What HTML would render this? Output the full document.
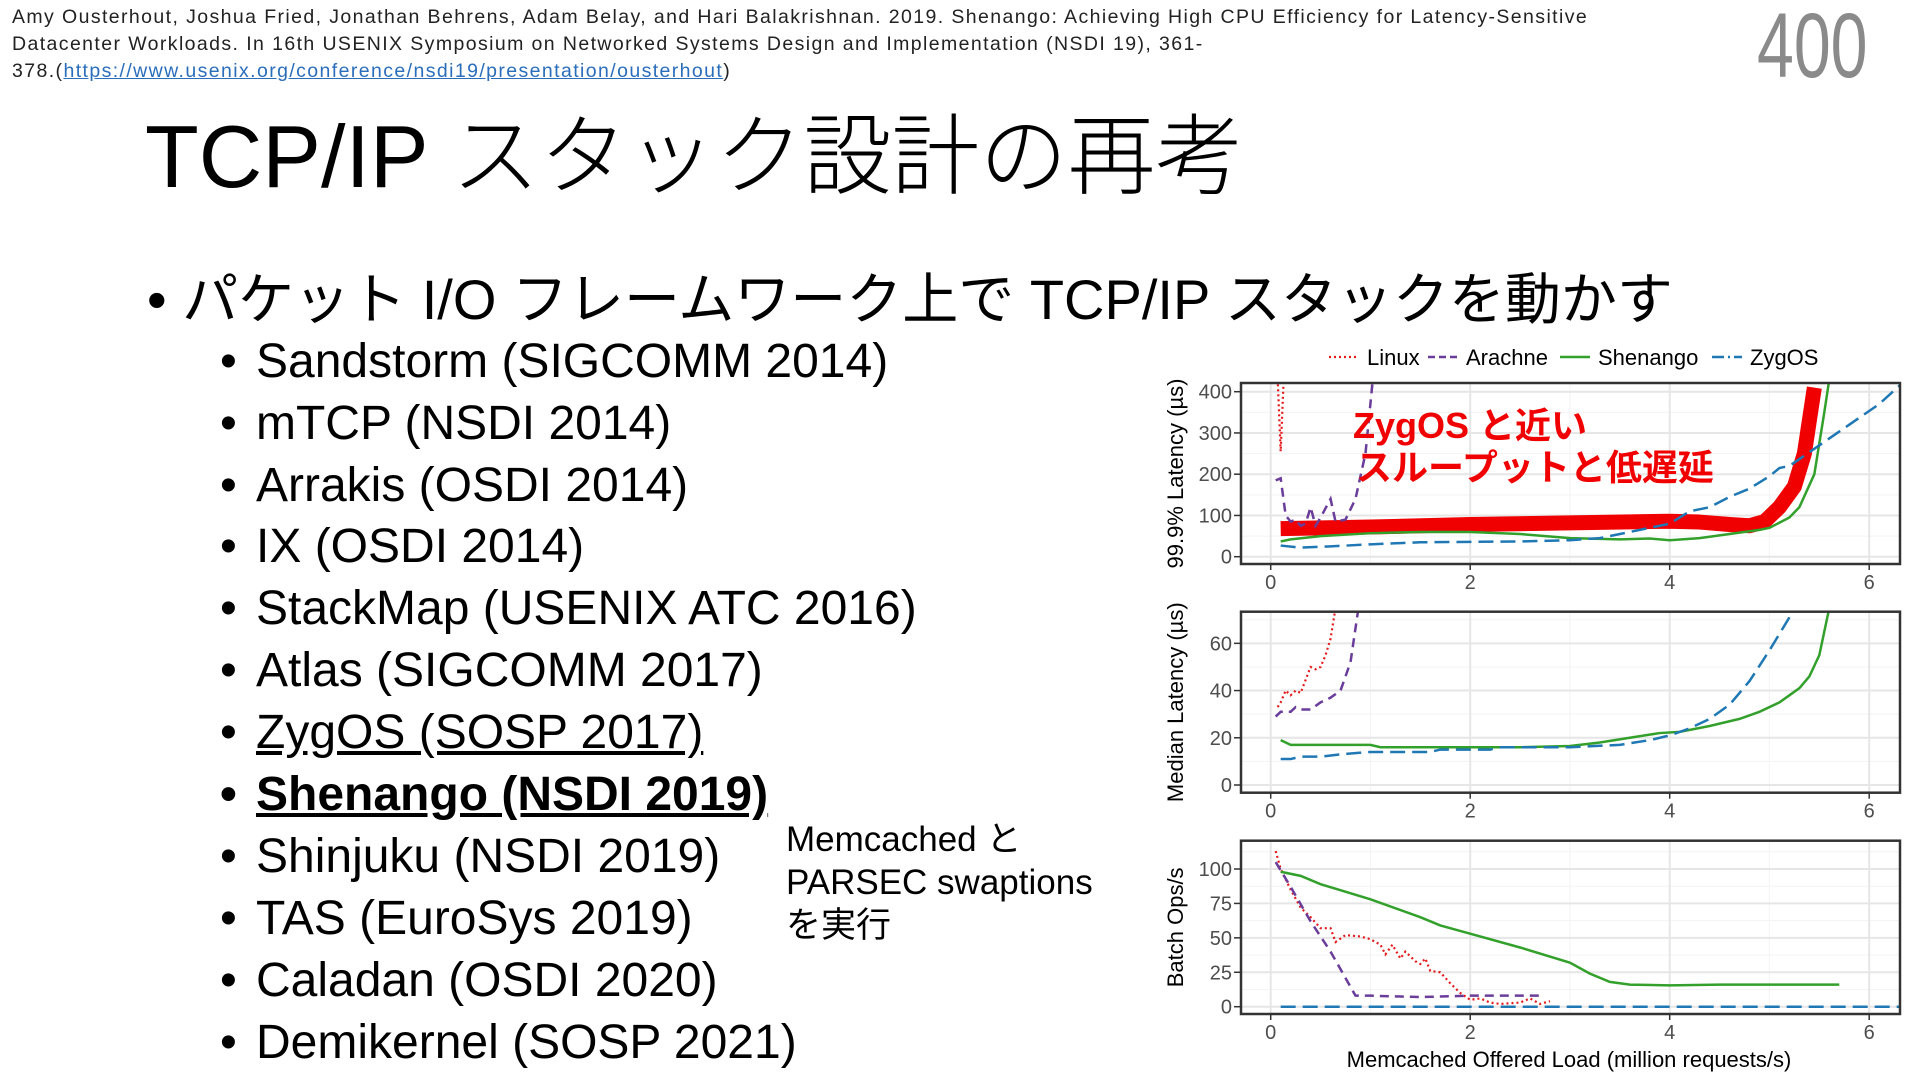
<!DOCTYPE html>
<html><head><meta charset="utf-8">
<style>
html,body{margin:0;padding:0;background:#fff;}
body{width:1920px;height:1080px;position:relative;overflow:hidden;font-family:"Liberation Sans","Noto Sans CJK JP",sans-serif;color:#000;}
.abs{position:absolute;white-space:nowrap;}
.cite{left:12px;font-size:19.5px;line-height:27px;color:#222;top:4px;letter-spacing:1.4px;}
.cite a{color:#2a6ebb;text-decoration:underline;}
.pg{right:53px;top:-6px;font-size:92px;color:#8a8a8a;font-weight:300;transform:scaleX(0.72);transform-origin:right top;}
.title{left:145px;top:86px;font-size:88px;font-weight:300;}
.main{left:147px;top:255px;font-size:56px;}
.sub{left:220px;font-size:48px;}
.sub .d{display:inline-block;width:36px;}
.note{left:786px;top:818px;font-size:35px;line-height:43px;white-space:normal;width:360px;}
</style></head>
<body>
<div class="abs cite">Amy Ousterhout, Joshua Fried, Jonathan Behrens, Adam Belay, and Hari Balakrishnan. 2019. Shenango: Achieving High CPU Efficiency for Latency-Sensitive<br>Datacenter Workloads. In 16th USENIX Symposium on Networked Systems Design and Implementation (NSDI 19), 361-<br>378.(<a>https://www.usenix.org/conference/nsdi19/presentation/ousterhout</a>)</div>
<div class="abs pg">400</div>
<div class="abs title">TCP/IP スタック設計の再考</div>
<div class="abs main">• パケット I/O フレームワーク上で TCP/IP スタックを動かす</div>
<div class="abs sub" style="top:334px"><span class="d">•</span>Sandstorm (SIGCOMM 2014)</div>
<div class="abs sub" style="top:396px"><span class="d">•</span>mTCP (NSDI 2014)</div>
<div class="abs sub" style="top:458px"><span class="d">•</span>Arrakis (OSDI 2014)</div>
<div class="abs sub" style="top:519px"><span class="d">•</span>IX (OSDI 2014)</div>
<div class="abs sub" style="top:581px"><span class="d">•</span>StackMap (USENIX ATC 2016)</div>
<div class="abs sub" style="top:643px"><span class="d">•</span>Atlas (SIGCOMM 2017)</div>
<div class="abs sub" style="top:705px"><span class="d">•</span><u>ZygOS (SOSP 2017)</u></div>
<div class="abs sub" style="top:767px;font-weight:bold"><span class="d">•</span><u>Shenango (NSDI 2019)</u></div>
<div class="abs sub" style="top:829px"><span class="d">•</span>Shinjuku (NSDI 2019)</div>
<div class="abs sub" style="top:891px"><span class="d">•</span>TAS (EuroSys 2019)</div>
<div class="abs sub" style="top:953px"><span class="d">•</span>Caladan (OSDI 2020)</div>
<div class="abs sub" style="top:1015px"><span class="d">•</span>Demikernel (SOSP 2021)</div>
<div class="abs note">Memcached と<br>PARSEC swaptions<br>を実行</div>

<svg id="chart" width="1920" height="1080" style="position:absolute;left:0;top:0" xmlns="http://www.w3.org/2000/svg"></svg>

<script>
const xTicks = [0, 2, 4, 6];
const p1Ticks = [0, 100, 200, 300, 400];
const p2Ticks = [0, 20, 40, 60];
const p3Ticks = [0, 25, 50, 75, 100];
const seriesNames = ["Linux", "Arachne", "Shenango", "ZygOS"];

const p1Linux = [[0.07,430],[0.1,255],[0.13,430]];
const p1Arachne = [[0.05,185],[0.1,190],[0.15,100],[0.2,85],[0.25,90],[0.3,75],[0.35,80],[0.4,120],[0.45,75],[0.5,95],[0.6,140],[0.65,85],[0.75,90],[0.85,140],[0.95,250],[1.02,420]];
const p1Shenango = [[0.1,37],[0.2,42],[0.5,50],[1,57],[1.5,60],[2,60],[2.5,55],[3,45],[3.5,42],[3.8,44],[4,40],[4.3,45],[4.6,55],[4.9,65],[5,70],[5.2,95],[5.3,120],[5.45,200],[5.55,350],[5.6,430]];
const p1ZygOS = [[0.1,27],[0.3,22],[0.6,25],[1,30],[1.5,35],[2,36],[2.5,37],[3,40],[3.3,45],[3.6,60],[3.8,70],[4,80],[4.2,110],[4.4,120],[4.6,145],[4.8,165],[5,195],[5.1,215],[5.2,220],[5.5,270],[5.8,320],[6.1,370],[6.35,425]];
const p1Highlight = [[0.1,68],[1,72],[2,78],[3,82],[4,86],[4.3,84],[4.6,78],[4.8,75],[4.95,85],[5.1,120],[5.25,170],[5.35,250],[5.45,410]];

const p2Linux = [[0.07,33],[0.1,35],[0.15,40],[0.2,38],[0.25,40],[0.3,39],[0.4,50],[0.45,49],[0.5,50],[0.55,55],[0.6,62],[0.65,75]];
const p2Arachne = [[0.05,29],[0.1,31],[0.2,31],[0.25,33],[0.3,32],[0.4,32],[0.5,35],[0.6,37],[0.7,40],[0.8,52],[0.88,75]];
const p2Shenango = [[0.1,19],[0.2,17],[0.5,17],[1,17],[1.1,16],[2,16],[2.5,16],[3,16.5],[3.3,18],[3.6,20],[3.9,22],[4.1,22.5],[4.4,25],[4.7,28],[4.9,31],[5.1,35],[5.3,41],[5.4,46],[5.5,55],[5.55,65],[5.6,75]];
const p2ZygOS = [[0.1,11],[0.2,11],[0.3,12],[0.5,12],[0.7,13],[1,14],[1.6,14],[1.7,15],[2.2,15],[2.3,16],[3,16],[3.5,17],[3.8,19],[4,21],[4.2,24],[4.4,28],[4.6,34],[4.8,44],[5,57],[5.2,71],[5.25,75]];

const p3Linux = [[0.05,113],[0.1,100],[0.2,85],[0.3,72],[0.4,65],[0.5,57],[0.6,57],[0.65,47],[0.75,52],[0.9,51],[1.0,49],[1.05,47],[1.1,45],[1.15,38],[1.22,45],[1.3,35],[1.35,40],[1.45,33],[1.5,31],[1.55,35],[1.6,26],[1.7,25],[1.8,17],[1.9,10],[2,5],[2.1,6],[2.2,3],[2.3,2],[2.5,3],[2.6,6],[2.7,2],[2.8,4]];
const p3Arachne = [[0.05,105],[0.2,87],[0.4,62],[0.6,40],[0.85,8],[1,8],[1.5,7],[2,8],[2.7,8]];
const p3Shenango = [[0.1,98],[0.3,95],[0.5,89],[1,78],[1.5,65],[1.7,59],[2,53],[2.5,43],[3,32],[3.2,24],[3.4,18],[3.6,16],[4,15.5],[4.5,16],[5,16],[5.7,16]];
const p3ZygOS = [[0.1,0],[6.3,0]];

const NS = "http://www.w3.org/2000/svg";
const svg = document.getElementById("chart");
const X0 = 1270.7, XK = 99.75, LEFT = 1241, RIGHT = 1900;
const xs = v => X0 + v * XK;
const styles = {
  Linux: {stroke:"#e41a1c", dash:"2 3", w:2.2},
  Arachne: {stroke:"#6a3d9a", dash:"9 6", w:2.5},
  Shenango: {stroke:"#33a02c", dash:"", w:2.5},
  ZygOS: {stroke:"#1f78b4", dash:"15 7", w:2.5}
};
function el(tag, attrs, parent){ const e=document.createElementNS(NS,tag); for(const k in attrs) e.setAttribute(k,attrs[k]); (parent||svg).appendChild(e); return e; }

const panels = [
  {top:383, bottom:564, y0:556.7, k:0.4125, ticks:p1Ticks, title:"99.9% Latency (µs)", data:[p1Linux,p1Arachne,p1Shenango,p1ZygOS], name:"p999-latency-panel"},
  {top:611.7, bottom:792.7, y0:785, k:2.361, ticks:p2Ticks, title:"Median Latency (µs)", data:[p2Linux,p2Arachne,p2Shenango,p2ZygOS], name:"median-latency-panel"},
  {top:840.7, bottom:1014, y0:1006.7, k:1.377, ticks:p3Ticks, title:"Batch Ops/s", data:[p3Linux,p3Arachne,p3Shenango,p3ZygOS], name:"batch-ops-panel"}
];

panels.forEach((p, pi) => {
  const ys = v => p.y0 - v * p.k;
  const g = el("g", {});
  
  
  const cid = "clip" + pi;
  const cp = el("clipPath", {id:cid}, g);
  el("rect", {x:LEFT, y:p.top, width:RIGHT-LEFT, height:p.bottom-p.top}, cp);
  const step = p.ticks[1]-p.ticks[0];
  for (let i=0;i<p.ticks.length;i++){
    const mv = p.ticks[i] + step/2;
    const yy = ys(mv);
    if (yy > p.top && yy < p.bottom) el("line",{x1:LEFT,x2:RIGHT,y1:yy,y2:yy,stroke:"#f3f3f3","stroke-width":1},g);
  }
  for (let i=0;i<xTicks.length;i++){
    const xx = xs(xTicks[i]+1);
    if (xx < RIGHT) el("line",{x1:xx,x2:xx,y1:p.top,y2:p.bottom,stroke:"#f3f3f3","stroke-width":1},g);
  }
  p.ticks.forEach(t => {
    const yy = ys(t);
    el("line",{x1:LEFT,x2:RIGHT,y1:yy,y2:yy,stroke:"#e6e6e6","stroke-width":2},g);
    el("line",{x1:LEFT-7,x2:LEFT,y1:yy,y2:yy,stroke:"#333","stroke-width":1.5},g);
    const tl = el("text",{x:LEFT-9,y:yy+7,"text-anchor":"end","font-size":"20","fill":"#4d4d4d","font-family":"'Liberation Sans Narrow','Liberation Sans',sans-serif"},g);
    tl.textContent = t;
    
    
  });
  xTicks.forEach(t => {
    const xx = xs(t);
    el("line",{x1:xx,x2:xx,y1:p.top,y2:p.bottom,stroke:"#e6e6e6","stroke-width":2},g);
    el("line",{x1:xx,x2:xx,y1:p.bottom,y2:p.bottom+6,stroke:"#333","stroke-width":1.5},g);
    const tl = el("text",{x:xx,y:p.bottom+25,"text-anchor":"middle","font-size":"20","fill":"#4d4d4d","font-family":"'Liberation Sans Narrow','Liberation Sans',sans-serif"},g);
    tl.textContent = t;
    
    
  });
  const sg = el("g",{"clip-path":"url(#"+cid+")"},g);
  if (pi === 0) {
    const hl = el("polyline",{points:p1Highlight.map(d=>xs(d[0])+","+ys(d[1])).join(" "),fill:"none",stroke:"#f00000","stroke-width":15,"stroke-linejoin":"round"},sg);
    
    
  }
  p.data.forEach((arr, si) => {
    const s = styles[seriesNames[si]];
    const pl = el("polyline",{points:arr.map(d=>xs(d[0])+","+ys(d[1])).join(" "),fill:"none",stroke:s.stroke,"stroke-width":s.w,"stroke-dasharray":s.dash},sg);
    
    
  });
  el("rect",{x:LEFT,y:p.top,width:RIGHT-LEFT,height:p.bottom-p.top,fill:"none",stroke:"#333","stroke-width":2.5},g);
  const cy = (p.top+p.bottom)/2;
  const yt = el("text",{x:1183,y:cy,"text-anchor":"middle","font-size":"22",transform:"rotate(-90 1183 "+cy+")","font-family":"'Liberation Sans',sans-serif"},g);
  yt.textContent = p.title;
  
  
});

const xt = el("text",{x:1569,y:1067,"text-anchor":"middle","font-size":"22","font-family":"'Liberation Sans',sans-serif"});
xt.textContent = "Memcached Offered Load (million requests/s)";



const legX = [1329, 1428, 1560, 1712];
const lg = el("g",{});


seriesNames.forEach((n, i) => {
  const s = styles[n];
  const item = el("g",{},lg);
  
  
  el("line",{x1:legX[i],x2:legX[i]+30,y1:357,y2:357,stroke:s.stroke,"stroke-width":s.w,"stroke-dasharray":n==="ZygOS"?"12 4 2 4":(n==="Arachne"?"7 4":s.dash)},item);
  const t = el("text",{x:legX[i]+38,y:365,"font-size":"22","font-family":"'Liberation Sans',sans-serif"},item);
  t.textContent = n;
});

const an = el("text",{x:1353,y:438,"font-size":"36","font-weight":"bold",fill:"#f00000","font-family":"'Liberation Sans','Noto Sans CJK JP',sans-serif"});


const a1 = el("tspan",{x:1353,y:438},an); a1.textContent = "ZygOS と近い";
const a2 = el("tspan",{x:1356,y:480},an); a2.textContent = "スループットと低遅延";
</script>
</body></html>
